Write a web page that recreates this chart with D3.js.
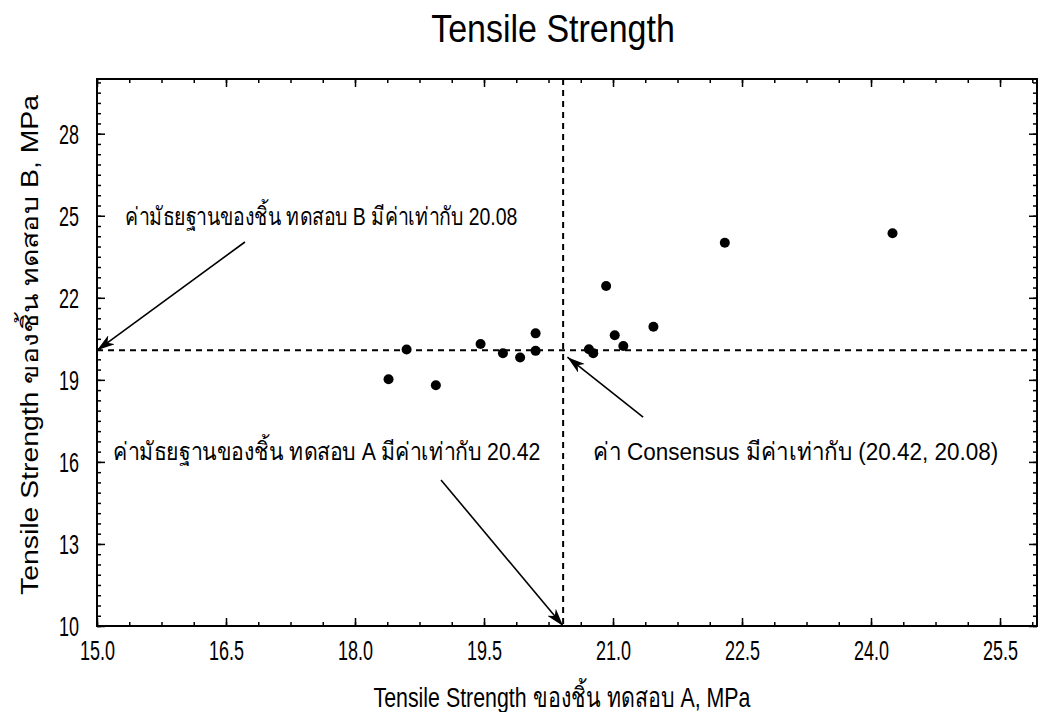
<!DOCTYPE html>
<html>
<head>
<meta charset="utf-8">
<script src="https://cdn.jsdelivr.net/npm/d3@7"></script>
<style>
  body { margin: 0; background: #fff; }
  svg text { fill: #000; }
</style>
</head>
<body>
<svg id="chart" width="1041" height="712"></svg>
<script>
// values
const strengthA = [18.39, 18.94, 18.60, 19.46, 19.72, 19.92, 20.10, 20.10, 20.72, 20.77, 20.92, 21.02, 21.12, 21.47, 22.30, 24.25]
const strengthB = [19.02, 18.80, 20.11, 20.31, 19.97, 19.82, 20.70, 20.06, 20.12, 19.97, 22.43, 20.63, 20.24, 20.94, 24.01, 24.36]

const medianA = 20.42
const medianB = 20.08

const xTicks = [15.0, 16.5, 18.0, 19.5, 21.0, 22.5, 24.0, 25.5]
const yTicks = [10, 13, 16, 19, 22, 25, 28]

const title = "Tensile Strength"
const xTitle = "Tensile Strength ของชิ้น ทดสอบ A, MPa"
const yTitle = "Tensile Strength ของชิ้น ทดสอบ B, MPa"

// annotation text + arrow, in data units
const notes = [
  {text: "ค่ามัธยฐานของชิ้น ทดสอบ B มีค่าเท่ากับ 20.08", tx: 15.33, ty: 24.66, len: 392, from: [16.72, 24.04], to: [15.0, medianB]},
  {text: "ค่ามัธยฐานของชิ้น ทดสอบ A มีค่าเท่ากับ 20.42", tx: 15.19, ty: 16.07, len: 427, from: [19.0, 15.34], to: [medianA, 10.0]},
  {text: "ค่า Consensus มีค่าเท่ากับ (20.42, 20.08)", tx: 20.77, ty: 16.07, len: 405, from: [21.35, 17.64], to: [20.47, 19.83]}
]

const font = "'Liberation Sans', Arial, 'Noto Sans', sans-serif"
const pLeft = 97, pRight = 1037, pTop = 79, pBottom = 626

const svg = d3.select("#chart")

const x = d3.scaleLinear().domain([15, 25.93]).range([pLeft, pRight])
const y = d3.scaleLinear().domain([10, 30]).range([pBottom, pTop])

// minor ticks every 0.375
const minorX = d3.range(0, 30).map(i => 15 + i * 0.375).filter(v => v <= 25.93)
const minorY = d3.range(0, 54).map(i => 10 + i * 0.375).filter(v => v <= 30)

svg.append("rect")
  .attr("width", 1041).attr("height", 712).attr("fill", "#fff")

svg.append("defs").append("marker")
  .attr("id", "head")
  .attr("markerUnits", "userSpaceOnUse")
  .attr("viewBox", "0 0 18 11")
  .attr("markerWidth", 18).attr("markerHeight", 11)
  .attr("refX", 18).attr("refY", 5.5)
  .attr("orient", "auto")
  .append("path")
  .attr("d", "M0,0 L18,5.5 L0,11 L5,5.5 Z")
  .attr("fill", "#000")

function ticks(axis, values, size, tr) {
  const g = svg.append("g")
    .attr("transform", tr)
    .call(axis.tickValues(values).tickSize(size).tickFormat(""))
  g.select(".domain").remove()
  g.selectAll(".tick line").attr("stroke", "#000").attr("stroke-width", 1.5)
  return g
}

ticks(d3.axisBottom(x), minorX, -4, `translate(0,${pBottom})`)
ticks(d3.axisTop(x), minorX, -4, `translate(0,${pTop})`)
ticks(d3.axisLeft(y), minorY, -4, `translate(${pLeft},0)`)
ticks(d3.axisRight(y), minorY, -4, `translate(${pRight},0)`)
ticks(d3.axisTop(x), xTicks, -8, `translate(0,${pTop})`)
ticks(d3.axisRight(y), yTicks, -8, `translate(${pRight},0)`)

// major ticks with labels
const gx = svg.append("g")
  .attr("transform", `translate(0,${pBottom})`)
  .call(d3.axisBottom(x).tickValues(xTicks).tickSize(-8).tickFormat(d3.format(".1f")))
gx.select(".domain").remove()
gx.selectAll(".tick line").attr("stroke", "#000").attr("stroke-width", 1.5)
gx.attr("font-family", font).attr("font-size", 18)
gx.selectAll(".tick text")
  .attr("y", null).attr("dy", null)
  .attr("transform", "translate(0,34) scale(1,1.5)")

const gy = svg.append("g")
  .attr("transform", `translate(${pLeft},0)`)
  .call(d3.axisLeft(y).tickValues(yTicks).tickSize(-8))
gy.select(".domain").remove()
gy.selectAll(".tick line").attr("stroke", "#000").attr("stroke-width", 1.5)
gy.attr("font-family", font).attr("font-size", 18)
gy.selectAll(".tick text")
  .attr("x", null).attr("dy", "0.35em")
  .attr("transform", "translate(-18,0) scale(1,1.5)")

// frame
svg.append("rect")
  .attr("x", pLeft).attr("y", pTop)
  .attr("width", pRight - pLeft).attr("height", pBottom - pTop)
  .attr("fill", "none").attr("stroke", "#000").attr("stroke-width", 2)

// median lines
svg.append("line")
  .attr("x1", x(medianA)).attr("x2", x(medianA))
  .attr("y1", pTop).attr("y2", pBottom)
  .attr("stroke", "#000").attr("stroke-width", 2).attr("stroke-dasharray", "6,5")
svg.append("line")
  .attr("x1", pLeft).attr("x2", pRight)
  .attr("y1", y(medianB)).attr("y2", y(medianB))
  .attr("stroke", "#000").attr("stroke-width", 2).attr("stroke-dasharray", "6,5")

// points
svg.append("g")
  .selectAll("circle")
  .data(strengthA.map((a, i) => ({a, b: strengthB[i]})))
  .enter().append("circle")
  .attr("cx", d => x(d.a))
  .attr("cy", d => y(d.b))
  .attr("r", 5)
  .attr("fill", "#000")

// notes
const gn = svg.append("g").attr("font-family", font).attr("font-size", 19)
gn.selectAll("text")
  .data(notes)
  .enter().append("text")
  .attr("transform", d => `translate(${x(d.tx)},${y(d.ty)}) scale(1,1.3)`)
  .attr("textLength", d => d.len)
  .attr("lengthAdjust", "spacingAndGlyphs")
  .text(d => d.text)
gn.selectAll("line")
  .data(notes)
  .enter().append("line")
  .attr("x1", d => x(d.from[0])).attr("y1", d => y(d.from[1]))
  .attr("x2", d => x(d.to[0])).attr("y2", d => y(d.to[1]))
  .attr("stroke", "#000").attr("stroke-width", 1.6)
  .attr("marker-end", "url(#head)")

// titles
svg.append("text")
  .attr("transform", "translate(553,42) scale(1,1.15)")
  .attr("text-anchor", "middle")
  .attr("font-family", font).attr("font-size", 34)
  .text(title)

svg.append("text")
  .attr("transform", "translate(562,707) scale(1,1.3)")
  .attr("text-anchor", "middle")
  .attr("font-family", font).attr("font-size", 21)
  .attr("textLength", 377).attr("lengthAdjust", "spacingAndGlyphs")
  .text(xTitle)

svg.append("text")
  .attr("transform", "translate(38,345) rotate(-90)")
  .attr("text-anchor", "middle")
  .attr("font-family", font).attr("font-size", 23)
  .attr("textLength", 500).attr("lengthAdjust", "spacingAndGlyphs")
  .text(yTitle)
</script>
</body>
</html>
